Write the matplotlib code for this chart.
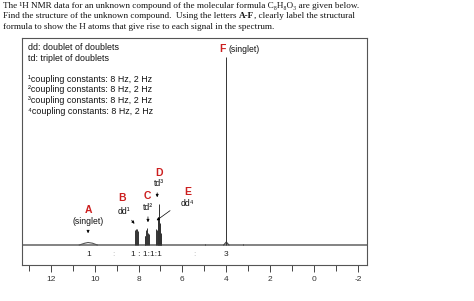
import numpy as np
import matplotlib
matplotlib.use('Agg')
import matplotlib.pyplot as plt

plt.rcParams['font.family'] = ['Liberation Sans', 'DejaVu Sans']

# Peak lists (ppm, height in px above baseline)
peak_ppm = [8.15, 8.13, 8.06, 8.04,
            7.72, 7.70, 7.64, 7.62, 7.56, 7.54,
            7.20, 7.18, 7.13, 7.11, 7.08, 7.06,
            7.03, 7.01, 6.99, 6.97,
            4.00, 4.96, 3.23]
peak_h = [15, 16, 16, 14,
          9, 9, 15, 17, 12, 11,
          16, 15, 28, 26, 41, 36,
          22, 21, 12, 10,
          188, 1.5, 1.5]

# broad singlet A (OH) and foot of F
bump_ppm = [10.70, 10.45, 10.30, 10.10, 9.88]
bump_h = [0, 1.8, 2.5, 1.8, 0]
foot_ppm = [4.12, 4.00, 3.88]
foot_h = [0, 3, 0]

# integrations
integ_text = ['1', ':', '1 : 1:1:1', ':', '3']
integ_ppm = [10.25, 9.15, 7.65, 5.45, 4.0]
integ_col = ['#222222', '#aaaaaa', '#222222', '#aaaaaa', '#222222']

red = '#cc1f1f'
serif = ['Liberation Serif', 'DejaVu Serif']

fig = plt.figure(figsize=(4.74, 3.01), dpi=100)
ax = fig.add_axes([22/474, 1-265/301, 345/474, 227/301])
ax.set_xlim(13.31, -2.41)
ax.set_ylim(-20, 207)

ax.axhline(0, color='#7a7a7a', lw=1.3, zorder=1)
ax.plot(bump_ppm, bump_h, color='#555555', lw=0.8)
ax.plot(foot_ppm, foot_h, color='#444444', lw=0.8)
ax.vlines(peak_ppm, 0, peak_h, color='#333333', lw=0.7, zorder=2)

for t, p, c in zip(integ_text, integ_ppm, integ_col):
    ax.text(p, -9, t, ha='center', va='center', fontsize=6, color=c)

# signal labels
lab = dict(color=red, fontsize=7.5, fontweight='bold', ha='center', va='center')
sub = dict(fontsize=6.2, ha='center', va='center', color='#111111')
arr = dict(arrowstyle='-|>', color='k', lw=0.5, mutation_scale=4)

ax.text(10.30, 35, 'A', **lab)
ax.text(10.30, 23, '(singlet)', **sub)
ax.annotate('', xy=(10.30, 9), xytext=(10.30, 17), arrowprops=arr)

ax.text(8.75, 47, 'B', **lab)
ax.text(8.65, 33, 'dd¹', **sub)
ax.annotate('', xy=(8.11, 19), xytext=(8.39, 27), arrowprops=arr)

ax.text(7.61, 49, 'C', **lab)
ax.text(7.57, 37, 'td²', **sub)
ax.annotate('', xy=(7.57, 20), xytext=(7.57, 31), arrowprops=arr)

ax.text(7.08, 72, 'D', **lab)
ax.text(7.08, 61, 'td³', **sub)
ax.annotate('', xy=(7.15, 45), xytext=(7.15, 55), arrowprops=arr)

ax.text(5.75, 53, 'E', **lab)
ax.text(5.78, 42, 'dd⁴', **sub)
ax.annotate('', xy=(7.28, 23), xytext=(6.46, 36), arrowprops=arr)

ax.text(4.17, 196, 'F', **lab)
ax.text(3.88, 196, '(singlet)', fontsize=6.2, ha='left', va='center', color='#111111')

# legend text block
legend_lines = ['dd: doublet of doublets', 'td: triplet of doublets',
                '¹coupling constants: 8 Hz, 2 Hz', '²coupling constants: 8 Hz, 2 Hz',
                '³coupling constants: 8 Hz, 2 Hz', '⁴coupling constants: 8 Hz, 2 Hz']
legend_y = [48, 58.5, 79.5, 90, 100.5, 111]
for line, py in zip(legend_lines, legend_y):
    fig.text(28/474, 1-py/301, line, fontsize=6.4, ha='left', va='center', color='#111111')

# axes styling
for s in ax.spines.values():
    s.set_color('#555555')
    s.set_linewidth(0.8)
ax.set_yticks([])
ax.set_xticks(np.arange(12, -3, -2))
ax.set_xticks(np.arange(13, -3, -1), minor=True)
ax.set_xticklabels(['12', '10', '8', '6', '4', '2', '0', '-2'])
ax.tick_params(axis='x', which='both', direction='out', length=5, width=0.7,
               color='#444444', labelsize=6, labelcolor='#333333', pad=3)
ax.tick_params(axis='x', which='minor', length=4)

# question text
tsize = 6.6
fig.text(3/474, 1-6/301, 'The ¹H NMR data for an unknown compound of the molecular formula C₈H₈O₃ are given below.',
         fontsize=tsize, family=serif, ha='left', va='center', color='#111111')
fig.text(3/474, 1-27/301, 'formula to show the H atoms that give rise to each signal in the spectrum.',
         fontsize=tsize, family=serif, ha='left', va='center', color='#111111')

# second line has a bold piece in the middle
renderer = fig.canvas.get_renderer()
parts = [('Find the structure of the unknown compound.  Using the letters ', 'normal'),
         ('A-F', 'bold'),
         (', clearly label the structural', 'normal')]
x = 3
for txt, w in parts:
    t = fig.text(x/474, 1-16/301, txt, fontsize=tsize, family=serif, fontweight=w,
                 ha='left', va='center', color='#111111')
    x = t.get_window_extent(renderer).x1

fig.savefig('out.png', dpi=100)
